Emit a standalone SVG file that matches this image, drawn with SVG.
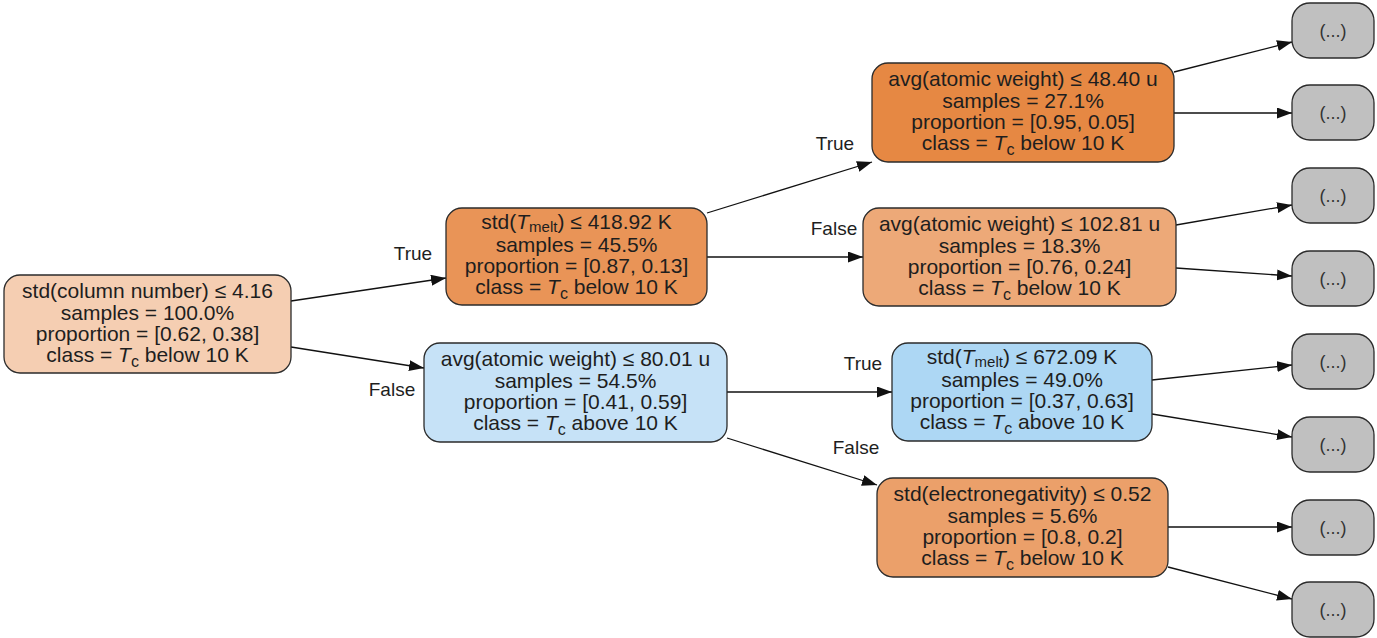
<svg xmlns="http://www.w3.org/2000/svg" width="1377" height="638" viewBox="0 0 1377 638">
<defs>
<style>
.box{stroke:#2b2b2b;stroke-width:1.3}
.leaf{fill:#c0c0c0;stroke:#2b2b2b;stroke-width:1.3}
.t{font-family:"Liberation Sans",Arial,sans-serif;font-size:21px;fill:#1e1e1e;text-anchor:middle}
.lt{font-family:"Liberation Sans",Arial,sans-serif;font-size:18px;fill:#333;text-anchor:middle}
.el{font-family:"Liberation Sans",Arial,sans-serif;font-size:19px;fill:#1e1e1e;text-anchor:middle}
.e{stroke:#111;stroke-width:1.3;fill:none;marker-end:url(#ah)}
.sub{font-size:16px}
.subm{font-size:15px}
.it{font-style:italic}
</style>
<marker id="ah" markerUnits="userSpaceOnUse" markerWidth="16" markerHeight="12" refX="15" refY="5.5" orient="auto">
<path d="M0,0 L15,5.5 L0,11 Z" fill="#111"/>
</marker>
</defs>
<rect width="1377" height="638" fill="#fff"/>

<g id="connectors">
<line class="e" x1="291" y1="301" x2="446" y2="278"/>
<line class="e" x1="291" y1="347" x2="424" y2="368"/>
<line class="e" x1="707" y1="213" x2="872" y2="162"/>
<line class="e" x1="707" y1="257" x2="863" y2="257"/>
<line class="e" x1="727" y1="392" x2="892" y2="392"/>
<line class="e" x1="727" y1="438" x2="877" y2="485"/>
<line class="e" x1="1174" y1="72" x2="1292" y2="42"/>
<line class="e" x1="1174" y1="113" x2="1292" y2="113"/>
<line class="e" x1="1176" y1="225" x2="1292" y2="205"/>
<line class="e" x1="1176" y1="268" x2="1292" y2="276"/>
<line class="e" x1="1152" y1="380" x2="1292" y2="365"/>
<line class="e" x1="1152" y1="414" x2="1292" y2="437"/>
<line class="e" x1="1168" y1="527" x2="1292" y2="527"/>
<line class="e" x1="1168" y1="567" x2="1292" y2="599"/>
<text class="el" x="413" y="260">True</text>
<text class="el" x="392" y="396">False</text>
<text class="el" x="835" y="150">True</text>
<text class="el" x="834" y="235">False</text>
<text class="el" x="863" y="370">True</text>
<text class="el" x="856" y="454">False</text>
</g>

<g id="n0">
<rect class="box" x="4" y="275" width="287" height="98" rx="16" fill="#f5ceb2"/>
<text class="t" x="147.5" y="298">std(column number) ≤ 4.16</text>
<text class="t" x="147.5" y="319.5">samples = 100.0%</text>
<text class="t" x="147.5" y="341">proportion = [0.62, 0.38]</text>
<text class="t" x="147.5" y="362">class = <tspan class="it">T</tspan><tspan class="sub" dy="5">c</tspan><tspan dy="-5"> below 10 K</tspan></text>
</g>

<g id="n1">
<rect class="box" x="446" y="208" width="261" height="97" rx="16" fill="#e99457"/>
<text class="t" x="576.5" y="229">std(<tspan class="it">T</tspan><tspan class="subm" dy="3">melt</tspan><tspan dy="-3">) ≤ 418.92 K</tspan></text>
<text class="t" x="576.5" y="251.5">samples = 45.5%</text>
<text class="t" x="576.5" y="273">proportion = [0.87, 0.13]</text>
<text class="t" x="576.5" y="294">class = <tspan class="it">T</tspan><tspan class="sub" dy="5">c</tspan><tspan dy="-5"> below 10 K</tspan></text>
</g>

<g id="n2">
<rect class="box" x="424" y="343" width="303" height="99" rx="16" fill="#c6e2f7"/>
<text class="t" x="575.5" y="366">avg(atomic weight) ≤ 80.01 u</text>
<text class="t" x="575.5" y="387.5">samples = 54.5%</text>
<text class="t" x="575.5" y="409">proportion = [0.41, 0.59]</text>
<text class="t" x="575.5" y="430">class = <tspan class="it">T</tspan><tspan class="sub" dy="5">c</tspan><tspan dy="-5"> above 10 K</tspan></text>
</g>

<g id="n3">
<rect class="box" x="872" y="63" width="302" height="99" rx="16" fill="#e68843"/>
<text class="t" x="1023" y="86">avg(atomic weight) ≤ 48.40 u</text>
<text class="t" x="1023" y="107.5">samples = 27.1%</text>
<text class="t" x="1023" y="129">proportion = [0.95, 0.05]</text>
<text class="t" x="1023" y="150">class = <tspan class="it">T</tspan><tspan class="sub" dy="5">c</tspan><tspan dy="-5"> below 10 K</tspan></text>
</g>

<g id="n4">
<rect class="box" x="863" y="208" width="313" height="98" rx="16" fill="#eda978"/>
<text class="t" x="1019.5" y="231">avg(atomic weight) ≤ 102.81 u</text>
<text class="t" x="1019.5" y="252.5">samples = 18.3%</text>
<text class="t" x="1019.5" y="274">proportion = [0.76, 0.24]</text>
<text class="t" x="1019.5" y="295">class = <tspan class="it">T</tspan><tspan class="sub" dy="5">c</tspan><tspan dy="-5"> below 10 K</tspan></text>
</g>

<g id="n5">
<rect class="box" x="892" y="343" width="260" height="98" rx="16" fill="#add7f4"/>
<text class="t" x="1022" y="364">std(<tspan class="it">T</tspan><tspan class="subm" dy="3">melt</tspan><tspan dy="-3">) ≤ 672.09 K</tspan></text>
<text class="t" x="1022" y="386.5">samples = 49.0%</text>
<text class="t" x="1022" y="408">proportion = [0.37, 0.63]</text>
<text class="t" x="1022" y="429">class = <tspan class="it">T</tspan><tspan class="sub" dy="5">c</tspan><tspan dy="-5"> above 10 K</tspan></text>
</g>

<g id="n6">
<rect class="box" x="877" y="478" width="291" height="99" rx="16" fill="#eba06a"/>
<text class="t" x="1022.5" y="501">std(electronegativity) ≤ 0.52</text>
<text class="t" x="1022.5" y="522.5">samples = 5.6%</text>
<text class="t" x="1022.5" y="544">proportion = [0.8, 0.2]</text>
<text class="t" x="1022.5" y="565">class = <tspan class="it">T</tspan><tspan class="sub" dy="5">c</tspan><tspan dy="-5"> below 10 K</tspan></text>
</g>

<g id="l1"><rect class="leaf" x="1292" y="3" width="82" height="55" rx="18"/><text class="lt" x="1333" y="37">(...)</text></g>
<g id="l2"><rect class="leaf" x="1292" y="85" width="82" height="55" rx="18"/><text class="lt" x="1333" y="119">(...)</text></g>
<g id="l3"><rect class="leaf" x="1292" y="168" width="82" height="55" rx="18"/><text class="lt" x="1333" y="202">(...)</text></g>
<g id="l4"><rect class="leaf" x="1292" y="251" width="82" height="55" rx="18"/><text class="lt" x="1333" y="285">(...)</text></g>
<g id="l5"><rect class="leaf" x="1292" y="334" width="82" height="55" rx="18"/><text class="lt" x="1333" y="368">(...)</text></g>
<g id="l6"><rect class="leaf" x="1292" y="417" width="82" height="55" rx="18"/><text class="lt" x="1333" y="451">(...)</text></g>
<g id="l7"><rect class="leaf" x="1292" y="500" width="82" height="55" rx="18"/><text class="lt" x="1333" y="534">(...)</text></g>
<g id="l8"><rect class="leaf" x="1292" y="582" width="82" height="55" rx="18"/><text class="lt" x="1333" y="616">(...)</text></g>
</svg>
